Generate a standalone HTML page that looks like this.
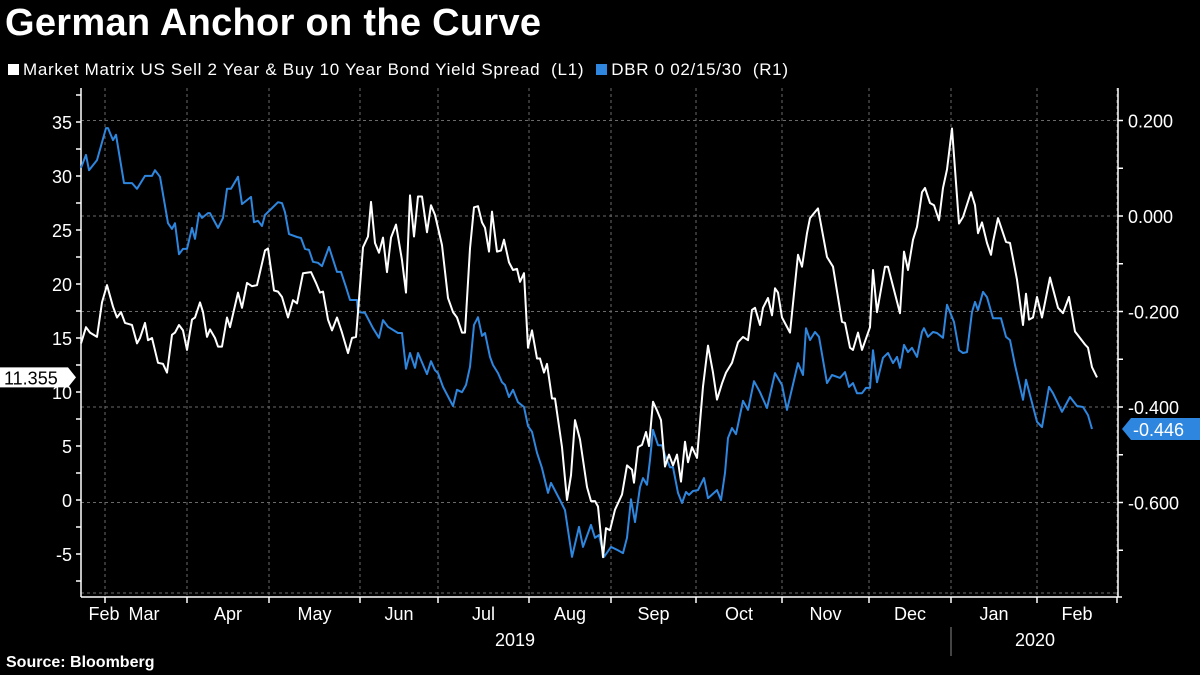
<!DOCTYPE html>
<html><head><meta charset="utf-8">
<style>
html,body{margin:0;padding:0;background:#000;}
body{width:1200px;height:675px;overflow:hidden;position:relative;font-family:"Liberation Sans",sans-serif;color:#fff;}
#title{position:absolute;left:5px;top:2px;font-size:38px;font-weight:bold;letter-spacing:0.3px;}
#legend{position:absolute;left:8px;top:60px;font-size:17px;letter-spacing:0.7px;display:flex;align-items:center;white-space:nowrap;}
.sw{display:inline-block;width:11px;height:11px;margin-right:4px;}
#source{position:absolute;left:6px;top:654px;font-size:16px;font-weight:bold;}
svg{position:absolute;left:0;top:0;}
</style></head>
<body>
<div id="title">German Anchor on the Curve</div>
<div id="legend">
 <span><span class="sw" style="background:#fff"></span>Market Matrix US Sell 2 Year &amp; Buy 10 Year Bond Yield Spread&nbsp; (L1)</span>
 <span style="margin-left:12px"><span class="sw" style="background:#2e86de"></span>DBR 0 02/15/30&nbsp; (R1)</span>
</div>
<div id="source">Source: Bloomberg</div>
<svg id="chart" width="1200" height="675"></svg>
<script>
const leftTicks=[-5,0,5,10,15,20,25,30,35];
const rightTicks=[0.2,0,-0.2,-0.4,-0.6];
const monthLabels=["Mar","Apr","May","Jun","Jul","Aug","Sep","Oct","Nov","Dec","Jan","Feb"];
const monthStartDays=[5.75,26.25,46.75,69.5,89,111.75,132.25,153.5,175,196.75,217.25,238.75,258.75];
const whiteDays=[-0.25,1,2,3.75,5,6.25,7.75,8.75,9.75,10.75,12.5,13.75,14.5,15.75,16.5,17.5,19,20.25,21.25,22.5,23.25,24.25,25.25,26.25,27.5,28.25,29.5,30.25,31.25,32,33.25,34,35,36.25,37,39,40,41.25,42.5,43.75,45.75,46.5,48,49,50,51.5,52.75,53.75,55.25,57.25,58.5,59.5,60.25,61.5,62.5,63.75,65,66.5,67.5,68.5,69,70.25,71.5,72.25,73.25,74.25,75.25,76.25,77.25,78.5,80,81,82,83,84,85,86.25,87.25,88.25,90,91.5,92.75,93.75,95,95.75,97,98,99,100,100.75,101.75,102.5,103.75,104.75,105.5,106.75,107.75,108.75,109.5,110.5,111.5,112.5,113.75,114.5,115.5,116.25,117.5,118.25,120,121.25,122.25,123.25,124.5,126.25,127.25,128.25,129,130.25,131,132,133.25,135,136.25,137.5,138,139,140,141,141.75,142.75,143.75,144.75,145.75,146.75,147.75,148.75,149.75,150.75,151.5,152.5,153.75,155.25,156.5,157.75,158.75,160,161,162.5,164,165.25,166.5,167.5,168.25,169.5,170.25,171.5,172.5,173.25,174,175,177,179,180,181.25,182,184,186.25,187.75,190,190.75,192,192.75,194,195,197,197.75,198.75,200.75,201.5,204.5,205.5,206.5,207.75,208.75,210,210.75,212,213,214.25,215.25,216.25,217.5,219.25,220.25,222.25,223.25,224,225,226.25,227.25,227.75,229,231,232,233.75,235.25,236,236.75,237.75,238.75,240,242,244,245.25,246.75,248.25,250.75,251.5,252.5,253.75];
const whiteVals=[14.5,16.0,15.5,15.1,18.3,19.9,17.9,16.9,17.4,16.4,16.2,14.5,15.0,16.4,14.8,15.0,12.7,12.6,11.8,15.3,15.5,16.2,15.7,13.9,16.7,16.9,18.3,17.4,15.1,15.8,15.0,14.2,14.2,16.9,16.0,19.2,17.8,20.1,19.8,19.9,23.1,23.3,19.4,19.3,18.8,16.9,18.5,18.2,21.0,21.1,20.1,19.2,19.3,16.7,15.7,16.9,15.5,13.6,15.0,15.1,17.4,23.4,24.4,27.6,23.8,22.9,24.3,21.1,24.3,25.5,22.2,19.2,28.2,24.4,28.1,28.1,24.8,27.3,26.4,23.6,18.7,17.4,16.9,15.5,15.5,23.3,27.1,27.2,25.7,25.2,23.0,26.7,23.0,23.1,24.1,22.0,21.3,21.4,20.2,21.0,14.1,15.7,13.1,13.1,11.8,12.6,9.4,9.4,4.9,0,2.3,7.4,5.6,1.2,-0.1,-0.1,-0.6,-5.3,-2.6,-2.8,-0.9,0.5,3.2,2.8,1.6,4.9,5.1,6.3,5.0,9.1,8.3,7.4,3.1,4.2,3.2,4.2,1.7,5.4,3.5,4.9,3.9,10.5,14.3,11.8,9.3,10.8,11.8,12.7,14.6,15.1,14.8,17.6,17.8,16.2,17.8,18.7,17.1,19.6,19.2,16.9,15.5,22.7,21.6,24.7,26.1,27.0,22.5,21.6,16.5,16.4,14.1,13.9,15.5,13.9,16.0,21.3,17.4,21.6,21.6,17.3,23.0,21.3,24.1,25.3,28.5,28.9,27.5,27.3,25.9,28.9,30.6,34.4,25.6,26.2,28.5,27.3,24.7,25.7,23.8,22.7,23.9,26.1,23.9,23.8,20.4,16.2,19.1,16.7,16.9,18.8,16.9,20.6,17.8,17.3,18.8,15.6,14.4,14.1,12.3,11.355];
const blueDays=[-0.25,1,1.75,3.75,6,6.5,7.75,8.5,10.5,12.5,
13.75,15.75,17.5,18.25,19.5,21.5,22.5,23.25,24.25,25.25,
26.25,27.5,28.25,29.25,30,31.5,32,34,35.25,36.25,
37.25,39,40,42.25,43,44,45,45.75,49,50,
50.75,51.75,53.75,54.75,55.75,56.75,57.75,59,60,61.75,
63.75,64.75,66,67,68.75,69,70.75,72.75,74.25,75.25,
76.5,79,80,81,82,83.25,84,86.25,87.25,88.25,
89,90.25,92.75,93.75,95,96,97,98,99,100,
100.75,102,102.75,104,105,105.75,106.75,107.75,109,110.5,
111.5,112.5,113.75,115,116.5,117.25,119.5,120.75,122.5,124.25,
125.25,127.25,128.25,129.25,130.5,132.25,133.75,135.25,136.25,137.25,
138.25,139.5,140.25,141.25,142,142.75,144,145,145.75,147,
147.75,149,150,151,151.75,152.75,154,155.5,156.5,158.75,
159.75,160.75,161.5,162.5,163.5,165.25,166.5,168,169.5,171.25,
173.25,175,176.25,179,180.25,181,182,183.25,184.25,186.25,
187.5,189.5,190.75,191.75,192.75,193.75,195,196,197,197.75,
198.75,200.25,201.5,202.75,203.75,204.5,205.5,206.5,207.5,208.75,
210,210.5,211.5,212.75,213.75,215.25,216.25,218,219.25,220.25,
221.25,222.5,223.25,224,225.25,226.25,227.75,229.75,231,232,
233.25,235.25,236,237,238.75,240,241.75,242.75,245,247,
248.75,250.25,251.5,252.5];
const blueVals=[0.101,0.128,0.096,0.117,0.184,0.184,0.159,0.170,0.069,0.069,
0.057,0.084,0.084,0.096,0.082,-0.015,-0.027,-0.015,-0.080,-0.069,
-0.069,-0.025,-0.048,0.006,-0.004,0.006,0.006,-0.025,-0.004,0.057,
0.057,0.082,0.025,0.040,-0.013,-0.010,-0.021,0.002,0.029,0.027,
0.008,-0.038,-0.044,-0.046,-0.069,-0.071,-0.096,-0.098,-0.105,-0.065,
-0.117,-0.117,-0.149,-0.176,-0.176,-0.201,-0.203,-0.235,-0.255,-0.218,
-0.232,-0.245,-0.245,-0.320,-0.287,-0.318,-0.287,-0.331,-0.304,-0.323,
-0.329,-0.358,-0.398,-0.364,-0.369,-0.354,-0.316,-0.228,-0.212,-0.251,
-0.245,-0.295,-0.312,-0.329,-0.348,-0.354,-0.379,-0.364,-0.390,-0.400,
-0.440,-0.452,-0.496,-0.528,-0.580,-0.559,-0.595,-0.616,-0.714,-0.651,
-0.693,-0.647,-0.674,-0.668,-0.714,-0.693,-0.699,-0.706,-0.674,-0.593,
-0.641,-0.568,-0.549,-0.563,-0.511,-0.448,-0.480,-0.480,-0.501,-0.526,
-0.526,-0.580,-0.601,-0.578,-0.584,-0.576,-0.574,-0.549,-0.591,-0.574,
-0.595,-0.538,-0.465,-0.444,-0.457,-0.387,-0.406,-0.346,-0.369,-0.402,
-0.329,-0.354,-0.406,-0.308,-0.333,-0.235,-0.260,-0.243,-0.253,-0.350,
-0.333,-0.339,-0.327,-0.358,-0.350,-0.371,-0.371,-0.360,-0.360,-0.281,
-0.348,-0.297,-0.287,-0.308,-0.295,-0.318,-0.270,-0.285,-0.276,-0.295,
-0.243,-0.235,-0.253,-0.243,-0.245,-0.255,-0.186,-0.222,-0.281,-0.287,
-0.285,-0.201,-0.180,-0.197,-0.159,-0.170,-0.214,-0.214,-0.253,-0.260,
-0.312,-0.385,-0.343,-0.375,-0.431,-0.442,-0.358,-0.371,-0.410,-0.379,
-0.398,-0.400,-0.417,-0.446];

const PL=81,PR=1118,PT=88,PB=597;
const xS=d=>82+d*4;
const yL=v=>500-v*10.8;
const yR=v=>216-v*477.5;
const svg=document.getElementById('chart');
const NS='http://www.w3.org/2000/svg';
function mk(tag,attrs,parent){const e=document.createElementNS(NS,tag);for(const k in attrs)e.setAttribute(k,attrs[k]);(parent||svg).appendChild(e);return e;}

const grid=mk('g',{});


rightTicks.forEach(v=>{const l=mk('line',{x1:PL,x2:PR,y1:yR(v),y2:yR(v),stroke:'#6a6a6a','stroke-width':1,'stroke-dasharray':'3,3'},grid);

});
mk('line',{x1:PL,x2:PR,y1:PB-4,y2:PB-4,stroke:'#6a6a6a','stroke-width':1,'stroke-dasharray':'3,3'},grid);
monthStartDays.forEach(d=>{const l=mk('line',{x1:xS(d),x2:xS(d),y1:PT,y2:PB,stroke:'#6a6a6a','stroke-width':1,'stroke-dasharray':'3,3'},grid);

});

const ax=mk('g',{stroke:'#fff','stroke-width':1.5});


mk('line',{x1:PL,x2:PL,y1:PT,y2:PB},ax);
mk('line',{x1:PR,x2:PR,y1:PT,y2:PB},ax);
mk('line',{x1:PL,x2:PR+4,y1:PB,y2:PB},ax);
for(let v=-7.5;v<=37.5;v+=2.5){mk('line',{x1:PL-5,x2:PL,y1:yL(v),y2:yL(v)},ax);}
for(let v=0.2;v>=-0.75;v-=0.1){mk('line',{x1:PR,x2:PR+5,y1:yR(v),y2:yR(v)},ax);}
monthStartDays.forEach(d=>mk('line',{x1:xS(d),x2:xS(d),y1:PB,y2:PB+6},ax));

leftTicks.forEach(v=>{const t=mk('text',{x:72,y:yL(v)+7,'text-anchor':'end',fill:'#fff','font-size':18,'font-family':'Liberation Sans, sans-serif'});


t.textContent=String(v);});
rightTicks.forEach(v=>{const t=mk('text',{x:1128,y:yR(v)+7,fill:'#fff','font-size':18,'font-family':'Liberation Sans, sans-serif'});


t.textContent=v.toFixed(3);});

const feb=mk('text',{x:104,y:620,'text-anchor':'middle',fill:'#fff','font-size':18,'font-family':'Liberation Sans, sans-serif'});


feb.textContent='Feb';
monthLabels.forEach((m,i)=>{const cx=(xS(monthStartDays[i])+xS(monthStartDays[i+1]))/2;
const t=mk('text',{x:i===0?144:cx,y:620,'text-anchor':'middle',fill:'#fff','font-size':18,'font-family':'Liberation Sans, sans-serif'});


t.textContent=m;});
const y19=mk('text',{x:515,y:646,'text-anchor':'middle',fill:'#fff','font-size':18,'font-family':'Liberation Sans, sans-serif'});


y19.textContent='2019';
const y20=mk('text',{x:1035,y:646,'text-anchor':'middle',fill:'#fff','font-size':18,'font-family':'Liberation Sans, sans-serif'});


y20.textContent='2020';
mk('line',{x1:951,x2:951,y1:627,y2:656,stroke:'#888','stroke-width':1});

function path(days,vals,ys){return days.map((d,i)=>(i?'L':'M')+xS(d).toFixed(1)+','+ys(vals[i]).toFixed(1)).join('');}
const bl=mk('path',{d:path(blueDays,blueVals,yR),fill:'none',stroke:'#2e86de','stroke-width':2,'stroke-linejoin':'round'});


const wl=mk('path',{d:path(whiteDays,whiteVals,yL),fill:'none',stroke:'#fff','stroke-width':2,'stroke-linejoin':'round'});



const wLast=whiteVals[whiteVals.length-1],bLast=blueVals[blueVals.length-1];
const wy=yL(wLast),by=yR(bLast);
const cw=mk('g',{});


mk('polygon',{points:`0,${wy-10} 68,${wy-10} 76,${wy} 68,${wy+10} 0,${wy+10}`,fill:'#fff'},cw);
const wt=mk('text',{x:4,y:wy+7,fill:'#000','font-size':18,'font-family':'Liberation Sans, sans-serif'},cw);
wt.textContent=wLast.toFixed(3);
const cb=mk('g',{});


mk('polygon',{points:`1122,${by} 1131,${by-11} 1200,${by-11} 1200,${by+11} 1131,${by+11}`,fill:'#2e86de'},cb);
const bt=mk('text',{x:1133,y:by+7,fill:'#fff','font-size':18,'font-family':'Liberation Sans, sans-serif'},cb);
bt.textContent=bLast.toFixed(3);
</script>
</body></html>
